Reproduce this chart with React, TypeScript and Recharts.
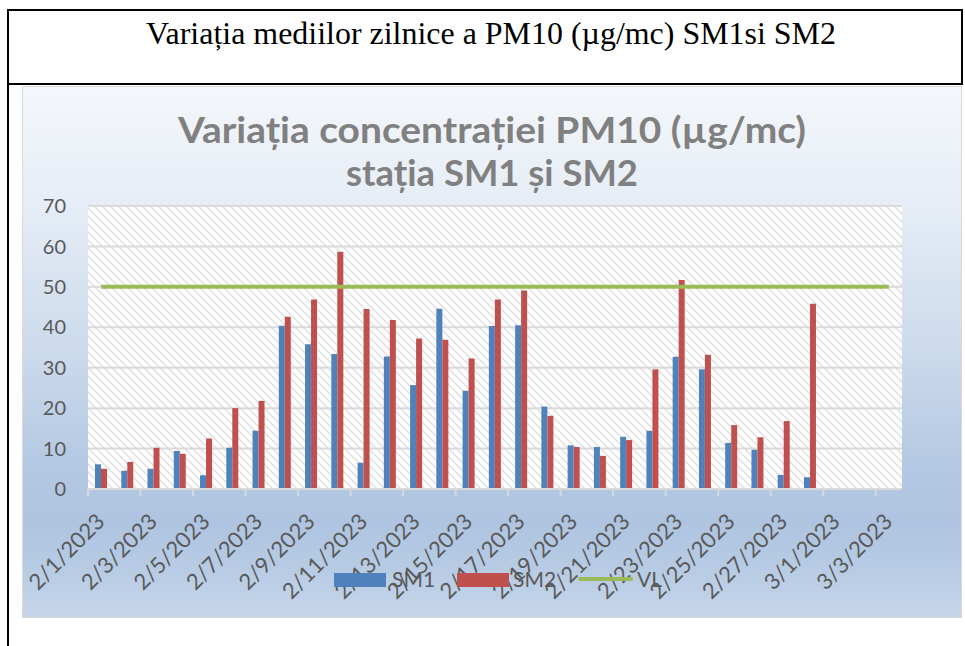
import React from 'react';
import { ComposedChart, Bar, Line, XAxis, YAxis, CartesianGrid, Legend } from 'recharts';

const categories = [
  '2/1/2023', '2/2/2023', '2/3/2023', '2/4/2023', '2/5/2023', '2/6/2023', '2/7/2023', '2/8/2023',
  '2/9/2023', '2/10/2023', '2/11/2023', '2/12/2023', '2/13/2023', '2/14/2023', '2/15/2023', '2/16/2023',
  '2/17/2023', '2/18/2023', '2/19/2023', '2/20/2023', '2/21/2023', '2/22/2023', '2/23/2023', '2/24/2023',
  '2/25/2023', '2/26/2023', '2/27/2023', '2/28/2023', '3/1/2023', '3/2/2023', '3/3/2023',
];

const sm1Values = [
  6.1, 4.5, 5.0, 9.4, 3.4, 10.2, 14.4, 40.4, 35.8, 33.4, 6.5, 32.8, 25.7, 44.6, 24.3, 40.3,
  40.5, 20.4, 10.8, 10.4, 12.9, 14.4, 32.7, 29.6, 11.4, 9.7, 3.5, 2.9, null, null, null,
];

const sm2Values = [
  5.0, 6.7, 10.2, 8.7, 12.5, 20.0, 21.8, 42.6, 46.9, 58.7, 44.5, 41.8, 37.2, 36.9, 32.3, 46.9,
  49.1, 18.1, 10.4, 8.2, 12.1, 29.6, 51.7, 33.2, 15.8, 12.8, 16.8, 45.8, null, null, null,
];

const vlValues = [
  50, 50, 50, 50, 50, 50, 50, 50, 50, 50, 50, 50, 50, 50, 50, 50,
  50, 50, 50, 50, 50, 50, 50, 50, 50, 50, 50, 50, 50, 50, 50,
];

const yTicks = [0, 10, 20, 30, 40, 50, 60, 70];

const data = categories.map((c, i) => ({
  date: c,
  SM1: sm1Values[i],
  SM2: sm2Values[i],
  VL: vlValues[i],
}));

const CHART_W = 940;
const CHART_H = 532;
const MARGIN = { top: 120, right: 60, left: 0, bottom: 0 };
const Y_W = 66;
const X_H = 129;
const HALF_BAND = (CHART_W - Y_W - MARGIN.right) / categories.length / 2;

const FONT = 'Lato, "Open Sans", sans-serif';
const TXT = '#595959';

const XTick = (props: any) => {
  const { x, y, payload } = props;
  const tx = x + 5;
  const ty = y + 34;
  return (
    <g>
      <line x1={x - HALF_BAND} x2={x - HALF_BAND} y1={y} y2={y + 7} stroke="#D9D9D9" strokeWidth={2} />
      <text
        x={tx}
        y={ty}
        transform={`rotate(-45, ${tx}, ${ty})`}
        textAnchor="end"
        fill={TXT}
        fontSize={22}
        fontFamily={FONT}
      >
        {payload.value}
      </text>
    </g>
  );
};

const legendItems = [
  { name: 'SM1', color: '#4F81BD', kind: 'rect', left: 312, textLeft: 370 },
  { name: 'SM2', color: '#C0504D', kind: 'rect', left: 435, textLeft: 491 },
  { name: 'VL', color: '#9BBB59', kind: 'line', left: 556, textLeft: 615 },
];

const LegendContent = () => (
  <div style={{ position: 'relative', width: CHART_W, height: 0 }}>
    {legendItems.map((it) => (
      <React.Fragment key={it.name}>
        {it.kind === 'rect' ? (
          <div style={{ position: 'absolute', left: it.left, top: 487, width: 52, height: 14, background: it.color }} />
        ) : (
          <div style={{ position: 'absolute', left: it.left, top: 491, width: 55, height: 4, borderRadius: 2, background: it.color }} />
        )}
        <div
          style={{
            position: 'absolute',
            left: it.textLeft,
            top: 480,
            fontSize: 21,
            lineHeight: '26px',
            fontFamily: FONT,
            color: TXT,
            whiteSpace: 'nowrap',
          }}
        >
          {it.name}
        </div>
      </React.Fragment>
    ))}
  </div>
);

export default function App() {
  return (
    <div style={{ position: 'absolute', left: 0, top: 0, width: 965, height: 646, background: '#FFFFFF', overflow: 'hidden' }}>
      <div
        style={{
          position: 'absolute',
          left: 22,
          top: 86,
          width: CHART_W,
          height: CHART_H,
          boxSizing: 'border-box',
          border: '1px solid #D9D9D9',
          background:
            'linear-gradient(to bottom, #F4F7FB 0%, #E6EDF6 22%, #CCDAEC 50%, #B3C8E2 72%, #AEC4E0 82%, #B8CCE4 92%, #C6D6EA 100%)',
        }}
      />
      <div style={{ position: 'absolute', left: 22, top: 86, width: CHART_W, height: CHART_H }}>
        <ComposedChart
          width={CHART_W}
          height={CHART_H}
          data={data}
          margin={MARGIN}
          barGap={0}
        >
          <defs>
            <pattern id="hatch" width="8" height="8" patternUnits="userSpaceOnUse">
              <rect width="8" height="8" fill="#FFFFFF" />
              <path d="M-2,6 L2,10 M0,0 L8,8 M6,-2 L10,2" stroke="#E0E0E0" strokeWidth={1.5} />
            </pattern>
          </defs>
          <CartesianGrid vertical={false} stroke="#D9D9D9" strokeWidth={2} fill="url(#hatch)" fillOpacity={1} />
          <XAxis
            dataKey="date"
            interval={1}
            height={X_H}
            tickSize={0}
            tickMargin={0}
            tickLine={false}
            axisLine={{ stroke: '#D9D9D9', strokeWidth: 2 }}
            tick={<XTick />}
          />
          <YAxis
            domain={[0, 70]}
            ticks={yTicks}
            width={Y_W}
            tickLine={false}
            axisLine={false}
            tickSize={0}
            tickMargin={22}
            tick={{ fill: TXT, fontSize: 20, fontFamily: FONT }}
          />
          <Bar dataKey="SM1" fill="#4F81BD" barSize={6} isAnimationActive={false} />
          <Bar dataKey="SM2" fill="#C0504D" barSize={6} isAnimationActive={false} />
          <Line dataKey="VL" stroke="#9BBB59" strokeWidth={4} dot={false} activeDot={false} isAnimationActive={false} />
          <Legend
            content={<LegendContent />}
            wrapperStyle={{ left: 0, top: 0, bottom: 'auto', width: CHART_W, height: 0 }}
          />
        </ComposedChart>
      </div>
      <svg width={965} height={646} style={{ position: 'absolute', left: 0, top: 0, pointerEvents: 'none' }}>
        <line x1={8} y1={9} x2={8} y2={646} stroke="#000" strokeWidth={2} />
        <line x1={7} y1={10} x2={963} y2={10} stroke="#000" strokeWidth={2} />
        <line x1={7} y1={84} x2={963} y2={84} stroke="#000" strokeWidth={2} />
        <line x1={962} y1={9} x2={962} y2={85} stroke="#000" strokeWidth={2} />
        <text
          x={491}
          y={44}
          textAnchor="middle"
          fontFamily='"Liberation Serif", "Times New Roman", serif'
          fontSize={31}
          fill="#000"
          textLength={690}
          lengthAdjust="spacingAndGlyphs"
        >
          Variația mediilor zilnice a PM10 (µg/mc) SM1si SM2
        </text>
        <text
          x={492}
          y={143}
          textAnchor="middle"
          fontFamily={FONT}
          fontWeight="bold"
          fontSize={37}
          fill="#808080"
          textLength={628}
          lengthAdjust="spacingAndGlyphs"
        >
          Variația concentrației PM10 (µg/mc)
        </text>
        <text
          x={492}
          y={186}
          textAnchor="middle"
          fontFamily={FONT}
          fontWeight="bold"
          fontSize={37}
          fill="#808080"
          textLength={292}
          lengthAdjust="spacingAndGlyphs"
        >
          stația SM1 și SM2
        </text>
      </svg>
    </div>
  );
}
